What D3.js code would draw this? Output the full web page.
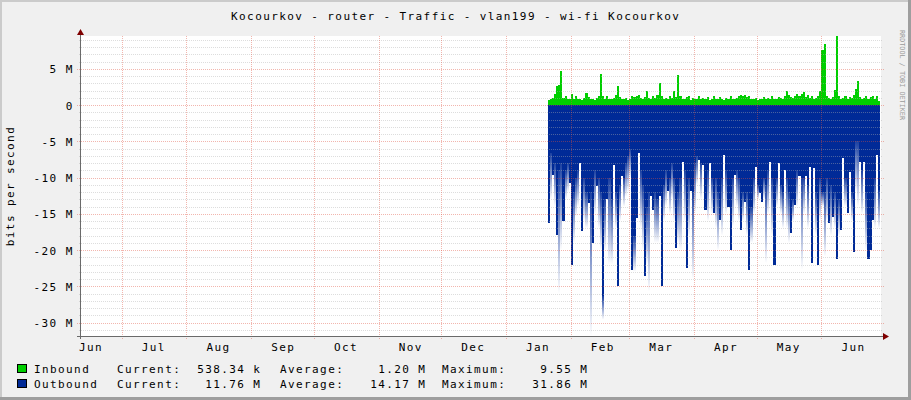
<!DOCTYPE html>
<html><head><meta charset="utf-8">
<script src="https://cdn.jsdelivr.net/npm/d3@7"></script>
<style>
body{margin:0;background:#F0F0F0}
svg{display:block}
text{font-family:"DejaVu Sans Mono",monospace;fill:#000}
</style>
</head><body>
<svg id="c" width="911" height="400"></svg>
<script>
// ---------- data ----------
const title = "Kocourkov - router - Traffic - vlan199 - wi-fi Kocourkov";
const yAxisTitle = "bits per second";
const watermark = "RRDTOOL / TOBI OETIKER";
const monthLabels = ["Jun","Jul","Aug","Sep","Oct","Nov","Dec","Jan","Feb","Mar","Apr","May","Jun"];
const yMajorTicks = [5,0,-5,-10,-15,-20,-25,-30];
const yTickLabels = ["5 M","0","-5 M","-10 M","-15 M","-20 M","-25 M","-30 M"];
const seriesNames = ["Inbound","Outbound"];
const seriesColors = ["#00CF00","#002A97"];
const legendCurrent = ["538.34 k","11.76 M"];
const legendAverage = ["1.20 M","14.17 M"];
const legendMaximum = ["9.55 M","31.86 M"];
// daily values, Mbit/s, starting 2019-01-21
const inbound = [0.7,0.9,1.0,1.6,2.6,2.8,4.7,1.0,1.3,0.8,0.9,
 1.6,0.9,1.2,0.8,0.9,0.7,1.0,1.7,1.1,0.8,
 0.9,0.7,1.0,1.2,4.3,1.3,0.8,1.2,0.9,0.8,
 1.0,1.4,2.7,1.1,0.9,0.8,1.0,0.7,0.9,1.2,
 1.1,1.3,1.4,1.0,0.8,1.1,1.9,1.0,0.9,1.2,
 1.0,1.4,3.0,1.2,0.8,1.0,0.9,1.3,1.0,1.9,
 1.1,4.2,1.2,0.9,0.8,1.1,1.3,0.7,1.0,0.9,
 0.8,1.2,0.9,1.0,0.8,1.1,0.7,0.9,1.2,0.8,
 0.9,1.1,0.8,0.7,1.0,0.9,1.2,0.8,0.9,1.0,
 1.3,1.4,1.2,1.4,1.1,1.3,0.9,0.8,1.0,0.7,
 0.8,0.9,1.1,0.8,1.0,0.9,1.2,0.9,0.8,1.1,
 1.0,0.9,1.2,1.9,1.4,1.1,1.0,1.3,1.6,1.2,
 1.5,1.8,1.1,1.4,1.0,1.2,0.9,1.0,1.3,2.0,
 7.6,8.5,1.2,1.0,0.9,1.1,2.1,9.55,1.2,0.9,
 1.0,1.3,0.9,1.1,1.0,1.4,2.2,3.3,1.1,0.9,
 1.0,1.2,0.8,1.1,1.3,0.9,1.2,0.54];
// outbound: depth of the dense part and depth reached by the faint tail
const outSolid = [16.2,6.6,9.7,8,17.9,9,8,16,9,8,
 10.8,22,12,10,9,8,17.4,10,12,13.5,
 12,19,9,11.2,10,12,26.4,13,13,10,
 13,8.2,12,25,11,9.8,10,8,7,6,
 22.7,18,15.6,6.6,9,11,23.6,14,12,12.6,
 14.4,12,13,12.6,25,11,9,11.9,10,8,
 10,19.7,12,10,7.9,9,22.5,10,11.9,12,
 8,7,7.5,8,8.2,14.4,9,8,10,14.9,
 10,12,15.8,10,6.9,9,14,20,10,9.6,
 9,10,17.2,12,13.3,12,22.8,14,10,8.5,
 11,12.1,13.3,10,11,9,7.8,10,22,10,
 8,11,12,8.9,10,12,17.7,13,13.8,9,
 9.8,10,10,9.8,11,8.5,21.8,8.7,12,22,
 10,12,12,10,16.3,11,15.4,12,21.3,13,
 17.2,7.3,10,14.9,9.2,12,20.2,5,5,7.9,
 9,7.8,12,21.3,20,15.8,10,6.9,11.76];
const outTail = [16.2,13,9.7,14,17.9,26,20,16,13,12,
 10.8,22,19,15.4,14,8,17.4,16,17,13.5,
 31.86,19,15,11.2,17,20,29.6,20,13,22,
 22,8.2,17,25,16,9.8,14,12.6,12,10,
 22.7,23,15.6,6.6,17,20,23.6,22,25.7,12.6,
 14.4,19,19,12.6,25,16,14,11.9,15,13,
 16,19.7,19,20,7.9,16,22.5,18,11.9,24,
 15,11,7.5,13,8.2,14.4,16,8,15,14.9,
 17,20,15.8,18,6.9,15,14,20,16.7,9.6,
 14,16,17.2,16,13.3,18,22.8,19,15,8.5,
 13,12.1,13.3,13,21.8,15,7.8,18,22,14,
 8,15,17,8.9,17,19,17.7,16,13.8,14,
 9.8,22.7,15,9.8,17,8.5,21.8,8.7,18,22,
 16,14,20.9,16,16.3,18,15.4,17,21.3,18,
 17.2,7.3,14,14.9,9.2,16,20.2,12,14,7.9,
 15,7.8,20,21.3,20,15.8,17,6.9,17];
const dataStart = Date.UTC(2019,0,21);
const DAY = 86400000;

// ---------- scales ----------
const svg = d3.select("#c");
const x = d3.scaleUtc().domain([Date.UTC(2018,5,11,12), Date.UTC(2019,5,29,12)]).range([81,881]);
const y = d3.scaleLinear().domain([-31.86, 9.55]).range([336, 36]);

// frame
svg.append("rect").attr("width",911).attr("height",400).attr("fill","#F0F0F0");
svg.append("rect").attr("x",0).attr("y",0).attr("width",911).attr("height",2).attr("fill","#CBCBCB");
svg.append("rect").attr("x",0).attr("y",0).attr("width",2).attr("height",400).attr("fill","#CBCBCB");
svg.append("rect").attr("x",908).attr("y",0).attr("width",3).attr("height",400).attr("fill","#9E9E9E");
svg.append("rect").attr("x",0).attr("y",397).attr("width",911).attr("height",3).attr("fill","#9E9E9E");

// canvas
svg.append("rect").attr("x",x.range()[0]).attr("y",y.range()[1])
  .attr("width",x.range()[1]-x.range()[0]).attr("height",y.range()[0]-y.range()[1]).attr("fill","#fff");

const defs = svg.append("defs");
const g1 = defs.append("linearGradient").attr("id","fade").attr("x1",0).attr("y1",0).attr("x2",0).attr("y2",1);
g1.append("stop").attr("offset","0%").attr("stop-color",seriesColors[1]).attr("stop-opacity",0.9);
g1.append("stop").attr("offset","100%").attr("stop-color",seriesColors[1]).attr("stop-opacity",0.0);

const days = inbound.map((v,i)=>i);
const dx0 = i => Math.round(x(new Date(dataStart + i*DAY)));
const dx1 = i => Math.round(x(new Date(dataStart + (i+1)*DAY)));

const dataG = svg.append("g").attr("shape-rendering","crispEdges");
// outbound tails
dataG.selectAll("rect.tail").data(days.filter(i=>outTail[i]>outSolid[i])).join("rect")
  .attr("x",dx0).attr("width",i=>dx1(i)-dx0(i))
  .attr("y",i=>y(-outSolid[i])).attr("height",i=>y(-outTail[i])-y(-outSolid[i]))
  .attr("fill","url(#fade)");
// outbound solid
dataG.selectAll("rect.out").data(days).join("rect")
  .attr("x",dx0).attr("width",i=>dx1(i)-dx0(i))
  .attr("y",y(0)).attr("height",i=>y(-outSolid[i])-y(0))
  .attr("fill",seriesColors[1]);
// inbound
dataG.selectAll("rect.in").data(days).join("rect")
  .attr("x",dx0).attr("width",i=>dx1(i)-dx0(i))
  .attr("y",i=>y(inbound[i])).attr("height",i=>y(0)-y(inbound[i]))
  .attr("fill",seriesColors[0]);

// grid
const gridG = svg.append("g").attr("shape-rendering","crispEdges");
const minor = d3.range(-31, 10).filter(v=>v%5!==0);
gridG.selectAll("line.mi").data(minor).join("line")
  .attr("x1",79).attr("x2",883)
  .attr("y1",v=>Math.round(y(v))+0.5).attr("y2",v=>Math.round(y(v))+0.5)
  .attr("stroke","rgba(175,175,175,0.42)").attr("stroke-dasharray","1,1");
gridG.selectAll("line.ma").data(yMajorTicks).join("line")
  .attr("x1",77).attr("x2",885)
  .attr("y1",v=>Math.round(y(v))+0.5).attr("y2",v=>Math.round(y(v))+0.5)
  .attr("stroke","rgba(224,80,62,0.42)").attr("stroke-dasharray","1,1");
const months = d3.utcMonth.range(x.domain()[0], x.domain()[1]);
gridG.selectAll("line.mv").data(months).join("line")
  .attr("x1",d=>Math.round(x(d))+0.5).attr("x2",d=>Math.round(x(d))+0.5)
  .attr("y1",36).attr("y2",339)
  .attr("stroke","rgba(224,80,62,0.42)").attr("stroke-dasharray","1,1");

// axes
svg.append("line").attr("x1",80.5).attr("x2",80.5).attr("y1",33).attr("y2",339).attr("stroke","#6a6a6a");
svg.append("line").attr("x1",77).attr("x2",884).attr("y1",336.5).attr("y2",336.5).attr("stroke","#6a6a6a");
svg.append("path").attr("d","M77,35 L84,35 L80.5,29 Z").attr("fill","#7F0000");
svg.append("path").attr("d","M883,333 L883,340 L889,336.5 Z").attr("fill","#7F0000");

// y labels
const LS = "1.4px";
svg.selectAll("text.yl").data(yMajorTicks).join("text")
  .attr("x",73.7).attr("y",v=>y(v)+4.5).attr("text-anchor","end")
  .attr("font-size",11).attr("letter-spacing",LS)
  .text((v,i)=>yTickLabels[i]);

// month labels
const monthStarts = d3.utcMonth.range(d3.utcMonth.floor(x.domain()[0]), x.domain()[1]);
svg.selectAll("text.ml").data(monthStarts).join("text")
  .attr("x",d=>x(new Date(+d + 15*DAY))+0.7).attr("y",350.5).attr("text-anchor","middle")
  .attr("font-size",11).attr("letter-spacing",LS)
  .text((d,i)=>monthLabels[i]);

// title
svg.append("text").attr("x",455.7).attr("y",19.5).attr("text-anchor","middle")
  .attr("font-size",11).attr("letter-spacing",LS).text(title);

// y axis title
svg.append("text").attr("transform","translate(14,186) rotate(-90)").attr("text-anchor","middle")
  .attr("font-size",11).attr("letter-spacing",LS).text(yAxisTitle);

// watermark
svg.append("text").attr("transform","translate(899.5,30) rotate(90)")
  .attr("font-size",6.8)
  .style("fill","#9A9A9A").text(watermark);

// legend
const rows = [373, 388];
seriesNames.forEach((n,i)=>{
  const by = rows[i];
  svg.append("rect").attr("x",17.5).attr("y",by-8.5).attr("width",9).attr("height",8)
    .attr("fill",seriesColors[i]).attr("stroke","#000").attr("stroke-width",1);
  const t = (tx,s,anchor)=>svg.append("text").attr("x",tx).attr("y",by).attr("text-anchor",anchor||"start")
     .attr("font-size",11).attr("letter-spacing",LS).text(s);
  t(34,n); t(117,"Current:"); t(261.4,legendCurrent[i],"end");
  t(280,"Average:"); t(426.4,legendAverage[i],"end");
  t(442,"Maximum:"); t(588.4,legendMaximum[i],"end");
});
</script>
</body></html>
